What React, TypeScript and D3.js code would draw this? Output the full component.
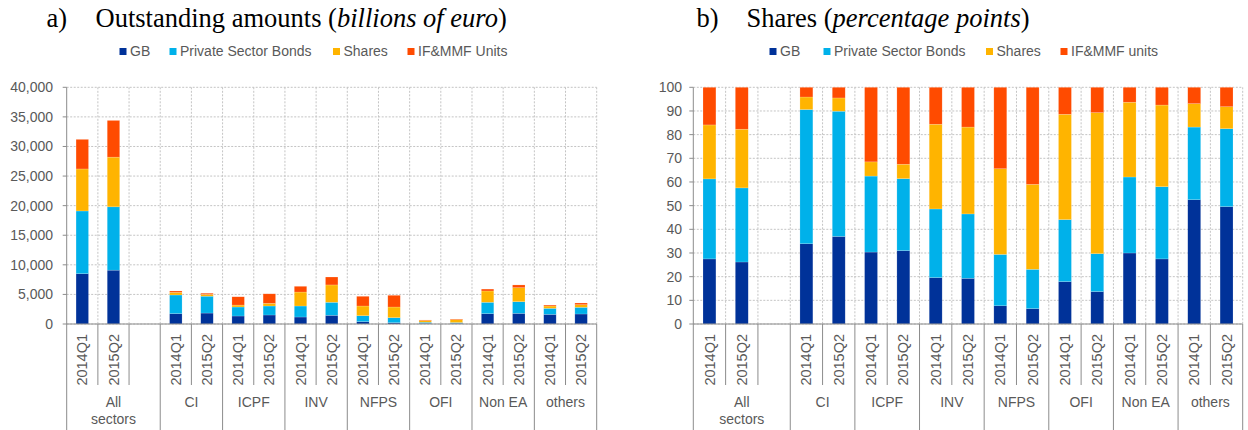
import * as d3 from "d3";

// categories
const groups = ["All sectors", "CI", "ICPF", "INV", "NFPS", "OFI", "Non EA", "others"];
const periods = ["2014Q1", "2015Q2"];
const seriesKeys = ["GB", "PSB", "Shares", "Funds"];
const seriesColors = ["#003299", "#00B1EA", "#FFB400", "#FF4B00"];

// a) outstanding amounts, billions of euro (2 values per group: 2014Q1, 2015Q2)
const amountGB = [8500, 9100, 1750, 1850, 1350, 1520, 1180, 1470, 400, 220, 120, 120, 1750, 1800, 1630, 1690];
const amountPSB = [10600, 10700, 3150, 2850, 1520, 1520, 1860, 2200, 1000, 850, 180, 130, 1920, 1970, 1020, 1130];
const amountShares = [7100, 8400, 450, 300, 330, 460, 2360, 2930, 1640, 1800, 300, 500, 1910, 2370, 390, 450];
const amountFunds = [5000, 6200, 230, 200, 1400, 1600, 970, 1340, 1640, 1980, 80, 90, 320, 460, 160, 280];

// b) shares, percentage points
const shareGB = [27.5, 26.2, 33.9, 37.0, 30.4, 31.0, 19.6, 19.3, 7.7, 6.5, 17.9, 13.7, 30.0, 27.5, 52.5, 49.6];
const sharePSB = [33.8, 31.3, 56.7, 52.9, 32.1, 30.4, 29.0, 27.2, 21.7, 16.6, 26.2, 16.0, 32.1, 30.5, 30.7, 32.9];
const shareShares = [22.8, 24.8, 5.3, 5.6, 6.0, 6.1, 35.8, 36.7, 36.2, 35.9, 44.5, 59.6, 31.6, 34.5, 9.9, 9.3];
const shareFunds = [15.9, 17.7, 4.1, 4.5, 31.5, 32.5, 15.6, 16.8, 34.4, 41.0, 11.4, 10.7, 6.3, 7.5, 6.9, 8.2];

const amountTicks = [0, 5000, 10000, 15000, 20000, 25000, 30000, 35000, 40000];
const shareTicks = [0, 10, 20, 30, 40, 50, 60, 70, 80, 90, 100];

const legendLeft = ["GB", "Private Sector Bonds", "Shares", "IF&MMF Units"];
const legendRight = ["GB", "Private Sector Bonds", "Shares", "IF&MMF units"];

const FONT = "'Liberation Sans', Arial, sans-serif";
const SERIF = "'Liberation Serif', 'Times New Roman', serif";
const TEXT = "#595959";

type Row = { key: string; group: string; period: string; [k: string]: any };

// one slot per period, plus an empty slot after "All sectors"
function buildRows(a: number[], b: number[], c: number[], d: number[]) {
  const rows: Row[] = [];
  groups.forEach((g, gi) => {
    periods.forEach((p, pi) => {
      const i = gi * 2 + pi;
      rows.push({ key: g + "|" + p, group: g, period: p, GB: a[i], PSB: b[i], Shares: c[i], Funds: d[i] });
    });
    if (gi === 0) rows.push({ key: g + "|", group: g, period: "", GB: 0, PSB: 0, Shares: 0, Funds: 0 });
  });
  return rows;
}

type PanelProps = {
  rows: Row[];
  left: number;
  right: number;
  top: number;
  bottom: number;
  max: number;
  ticks: number[];
  fmt: (v: number) => string;
  labelX: number;
  letter: string;
  letterX: number;
  titleX: number;
  titleMain: string;
  titleItalic: string;
  titleEnd: string;
  legend: string[];
  legendX: number[];
};

function Panel(p: PanelProps) {
  const x = d3
    .scaleBand()
    .domain(p.rows.map((r) => r.key))
    .range([p.left, p.right])
    .paddingInner(0.6)
    .paddingOuter(0.3);
  const y = d3.scaleLinear().domain([0, p.max]).range([p.bottom, p.top]);
  const stacked = d3.stack<Row>().keys(seriesKeys)(p.rows);
  const step = x.step();
  const slotStart = (i: number) => p.left + i * step;
  const n = p.rows.length;

  // boundaries where a new group starts get the long line
  const groupStarts: number[] = [];
  const groupSpans: { name: string; from: number; to: number }[] = [];
  p.rows.forEach((r, i) => {
    if (i === 0 || p.rows[i - 1].group !== r.group) {
      groupStarts.push(i);
      groupSpans.push({ name: r.group, from: i, to: i + 1 });
    } else {
      groupSpans[groupSpans.length - 1].to = i + 1;
    }
  });
  groupStarts.push(n);

  return (
    <g>
      {/* title */}
      <text x={p.letterX} y={27} fontFamily={SERIF} fontSize={26.5} fill="#000">
        {p.letter}
      </text>
      <text x={p.titleX} y={27} fontFamily={SERIF} fontSize={26.5} fill="#000">
        {p.titleMain}
        <tspan fontStyle="italic">{p.titleItalic}</tspan>
        {p.titleEnd}
      </text>

      {/* legend */}
      {p.legend.map((name, i) => (
        <g key={name} transform={`translate(${p.legendX[i]},${51.5})`}>
          <rect x={0} y={-3.5} width={7} height={7} fill={seriesColors[i]} />
          <text x={10.5} y={0} dy="0.35em" fontFamily={FONT} fontSize={14} fill={TEXT}>
            {name}
          </text>
        </g>
      ))}

      {/* gridlines */}
      {p.ticks.map((t) => (
        <line key={"h" + t} x1={p.left} x2={p.right} y1={y(t)} y2={y(t)} stroke="#c4c4c4" strokeDasharray="2,1.5" />
      ))}
      {d3.range(1, n + 1).map((i) => (
        <line key={"v" + i} x1={slotStart(i)} x2={slotStart(i)} y1={p.top} y2={p.bottom} stroke="#c4c4c4" strokeDasharray="2,1.5" />
      ))}

      {/* bars */}
      {stacked.map((layer, li) => (
        <g key={layer.key} fill={seriesColors[li]}>
          {layer.map((d, i) =>
            d[1] - d[0] > 0 ? (
              <rect
                key={i}
                x={x(p.rows[i].key)!}
                width={x.bandwidth()}
                y={y(d[1])}
                height={y(d[0]) - y(d[1])}
                stroke="#ffffff"
                strokeOpacity={0.35}
                strokeWidth={0.5}
              />
            ) : null
          )}
        </g>
      ))}

      {/* y axis */}
      <line x1={p.left} x2={p.left} y1={p.top} y2={p.bottom} stroke="#8c8c8c" />
      {p.ticks.map((t) => (
        <g key={"t" + t}>
          <line x1={p.left - 4} x2={p.left} y1={y(t)} y2={y(t)} stroke="#8c8c8c" />
          <text x={p.labelX} y={y(t)} dy="0.35em" textAnchor="end" fontFamily={FONT} fontSize={14} fill={TEXT}>
            {p.fmt(t)}
          </text>
        </g>
      ))}

      {/* category axis */}
      <line x1={p.left} x2={p.right} y1={p.bottom} y2={p.bottom} stroke="#8c8c8c" />
      {d3.range(0, n + 1).map((i) => (
        <line
          key={"c" + i}
          x1={slotStart(i)}
          x2={slotStart(i)}
          y1={p.bottom}
          y2={groupStarts.includes(i) ? 430 : 385}
          stroke="#8c8c8c"
        />
      ))}
      {p.rows.map((r) =>
        r.period ? (
          <text
            key={"l" + r.key}
            transform={`translate(${x(r.key)! + x.bandwidth() / 2},334) rotate(-90)`}
            textAnchor="end"
            dy="0.35em"
            fontFamily={FONT}
            fontSize={14.5}
            fill={TEXT}
          >
            {r.period}
          </text>
        ) : null
      )}
      {groupSpans.map((gs) => {
        const cx = (slotStart(gs.from) + slotStart(gs.to)) / 2;
        const words = gs.name === "All sectors" ? ["All", "sectors"] : [gs.name];
        return (
          <text key={"g" + gs.name} x={cx} textAnchor="middle" fontFamily={FONT} fontSize={14} fill={TEXT}>
            {words.map((w, wi) => (
              <tspan key={w} x={cx} y={401.7 + wi * 17.6} dy="0.35em">
                {w}
              </tspan>
            ))}
          </text>
        );
      })}
    </g>
  );
}

export default function App() {
  const amountRows = buildRows(amountGB, amountPSB, amountShares, amountFunds);
  const shareRows = buildRows(shareGB, sharePSB, shareShares, shareFunds);
  const comma = d3.format(",");
  return (
    <div style={{ position: "absolute", left: 0, top: 0 }}>
      <svg width={1248} height={430} style={{ display: "block", background: "#fff" }}>
        <Panel
          rows={amountRows}
          left={66.7}
          right={596.7}
          top={87.3}
          bottom={324}
          max={40000}
          ticks={amountTicks}
          fmt={(v) => comma(v)}
          labelX={53}
          letter="a)"
          letterX={46.5}
          titleX={95.5}
          titleMain="Outstanding amounts ("
          titleItalic="billions of euro"
          titleEnd=")"
          legend={legendLeft}
          legendX={[119.5, 169.5, 333, 407.5]}
        />
        <Panel
          rows={shareRows}
          left={693.3}
          right={1242.7}
          top={87.3}
          bottom={324}
          max={100}
          ticks={shareTicks}
          fmt={(v) => String(v)}
          labelX={682}
          letter="b)"
          letterX={696.5}
          titleX={746.5}
          titleMain="Shares ("
          titleItalic="percentage points"
          titleEnd=")"
          legend={legendRight}
          legendX={[769.5, 823.5, 986, 1060.5]}
        />
      </svg>
    </div>
  );
}
